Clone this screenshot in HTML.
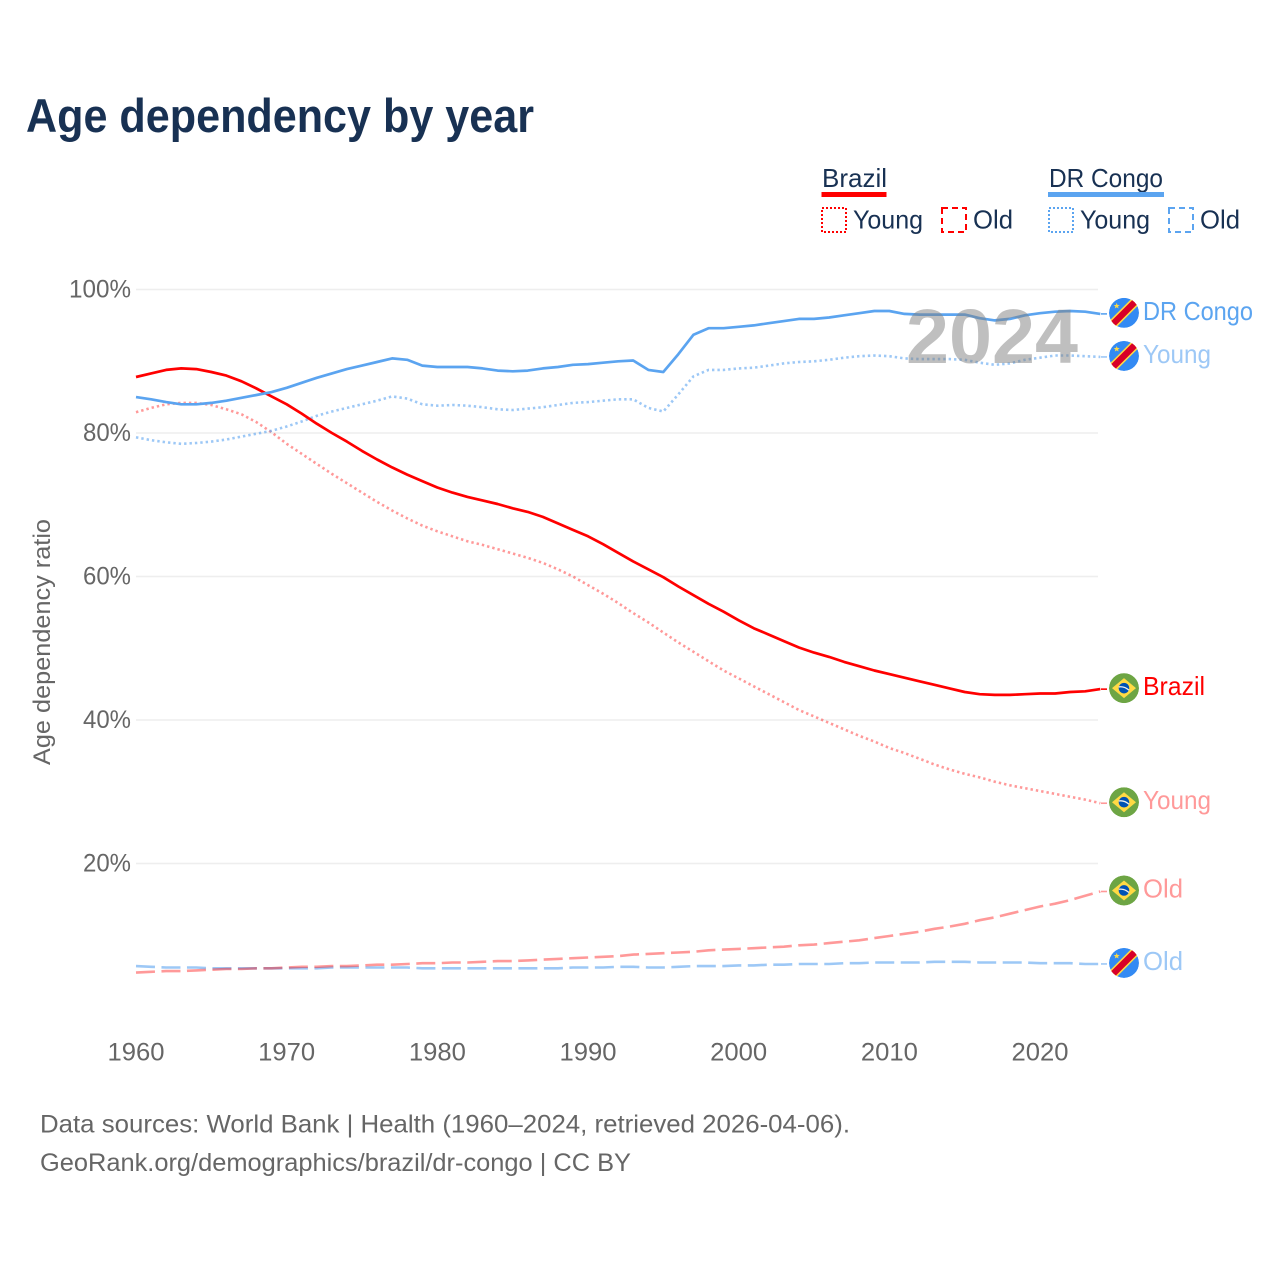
<!DOCTYPE html>
<html lang="en">
<head>
<meta charset="utf-8">
<title>Age dependency by year</title>
<style>
html,body{margin:0;padding:0;background:#fff;}
svg{display:block;}
text{font-family:"Liberation Sans",sans-serif;}
</style>
</head>
<body>
<svg id="chart" xmlns="http://www.w3.org/2000/svg" width="1280" height="1280" viewBox="0 0 1280 1280">
<defs>
<clipPath id="flag-clip"><circle cx="0" cy="0" r="15"/></clipPath>
<g id="flag-brazil">
<g clip-path="url(#flag-clip)">
<circle r="15" fill="#6da544"/>
<polygon points="0,-10 12,0 0,10 -12,0" fill="#ffda44"/>
<circle r="5.3" fill="#0052b4"/>
<path d="M-5.2,-1.2 Q0,-2.2 5,2" stroke="#f0f0f0" stroke-width="1.3" fill="none"/>
</g>
</g>
<g id="flag-congo">
<g clip-path="url(#flag-clip)">
<circle r="15" fill="#338af3"/>
<line x1="-15" y1="15" x2="15" y2="-15" stroke="#ffda44" stroke-width="9.5"/>
<line x1="-15" y1="15" x2="15" y2="-15" stroke="#d80027" stroke-width="6.4"/>
<polygon points="-7.3,-10 -6.5,-7.9 -4.3,-7.9 -6,-6.5 -5.4,-4.4 -7.3,-5.6 -9.2,-4.4 -8.6,-6.5 -10.3,-7.9 -8.1,-7.9" fill="#ffda44"/>
</g>
</g>
</defs>

<text x="26" y="132" font-size="47" font-weight="700" fill="#183153" textLength="508" lengthAdjust="spacingAndGlyphs">Age dependency by year</text>

<g>
<text x="822" y="187" font-size="26" fill="#183153" textLength="65" lengthAdjust="spacingAndGlyphs">Brazil</text>
<rect x="821.5" y="192" width="65" height="5" fill="#ff0000"/>
<rect x="822" y="208" width="24" height="24" fill="none" stroke="#ff0000" stroke-width="2" stroke-dasharray="2 2"/>
<text x="853" y="228.5" font-size="26" fill="#183153" textLength="70" lengthAdjust="spacingAndGlyphs">Young</text>
<rect x="942" y="208" width="24" height="24" fill="none" stroke="#ff0000" stroke-width="2" stroke-dasharray="6 4"/>
<text x="973" y="228.5" font-size="26" fill="#183153" textLength="40" lengthAdjust="spacingAndGlyphs">Old</text>
<text x="1049" y="187" font-size="26" fill="#183153" textLength="114" lengthAdjust="spacingAndGlyphs">DR Congo</text>
<rect x="1048" y="192" width="116" height="5" fill="#5ba4f0"/>
<rect x="1049" y="208" width="24" height="24" fill="none" stroke="#5ba4f0" stroke-width="2" stroke-dasharray="2 2"/>
<text x="1080" y="228.5" font-size="26" fill="#183153" textLength="70" lengthAdjust="spacingAndGlyphs">Young</text>
<rect x="1169" y="208" width="24" height="24" fill="none" stroke="#5ba4f0" stroke-width="2" stroke-dasharray="6 4"/>
<text x="1200" y="228.5" font-size="26" fill="#183153" textLength="40" lengthAdjust="spacingAndGlyphs">Old</text>
</g>

<g id="grid"></g>
<g id="y-ticks"></g>
<g id="x-ticks"></g>
<text transform="translate(50,642) rotate(-90)" text-anchor="middle" font-size="24" fill="#666666" textLength="246" lengthAdjust="spacingAndGlyphs">Age dependency ratio</text>

<g id="series"></g>
<text x="906" y="363" font-size="77" font-weight="700" fill="#808080" fill-opacity="0.5" textLength="172" lengthAdjust="spacingAndGlyphs">2024</text>
<g id="end-labels"></g>

<text x="40" y="1132.5" font-size="25" fill="#666666" textLength="810" lengthAdjust="spacingAndGlyphs">Data sources: World Bank | Health (1960–2024, retrieved 2026-04-06).</text>
<text x="40" y="1171" font-size="25" fill="#666666" textLength="591" lengthAdjust="spacingAndGlyphs">GeoRank.org/demographics/brazil/dr-congo | CC BY</text>
</svg>

<script>
var yearStart = 1960;
var xTickYears = [1960, 1970, 1980, 1990, 2000, 2010, 2020];
var yTickValues = [20, 40, 60, 80, 100];

var brazilTotal = [87.8,88.3,88.8,89.0,88.9,88.5,88.0,87.2,86.2,85.1,
  84.0,82.7,81.3,80.0,78.8,77.5,76.3,75.2,74.2,73.3,
  72.4,71.7,71.1,70.6,70.1,69.5,69.0,68.3,67.4,66.5,
  65.6,64.5,63.3,62.1,61.0,59.9,58.6,57.4,56.2,55.1,
  53.9,52.8,51.9,51.0,50.1,49.4,48.8,48.1,47.5,46.9,
  46.4,45.9,45.4,44.9,44.4,43.9,43.6,43.5,43.5,43.6,
  43.7,43.7,43.9,44.0,44.3];
var brazilYoung = [82.9,83.5,84.0,84.2,84.2,83.9,83.3,82.6,81.5,80.1,
  78.5,77.1,75.7,74.3,73.0,71.7,70.4,69.2,68.1,67.1,
  66.3,65.6,64.9,64.4,63.8,63.2,62.6,61.9,61.0,60.0,
  58.8,57.6,56.3,54.9,53.6,52.2,50.8,49.5,48.2,46.9,
  45.8,44.7,43.6,42.5,41.4,40.5,39.6,38.7,37.8,37.0,
  36.1,35.4,34.6,33.8,33.1,32.5,32.0,31.4,30.9,30.5,
  30.1,29.7,29.3,28.9,28.4];
var brazilOld = [4.8,4.9,5.0,5.0,5.1,5.2,5.3,5.3,5.4,5.4,
  5.5,5.6,5.6,5.7,5.7,5.8,5.9,5.9,6.0,6.1,
  6.1,6.2,6.2,6.3,6.4,6.4,6.5,6.6,6.7,6.8,
  6.9,7.0,7.1,7.3,7.4,7.5,7.6,7.7,7.9,8.0,
  8.1,8.2,8.3,8.4,8.6,8.7,8.9,9.1,9.3,9.6,
  9.9,10.2,10.5,10.9,11.2,11.6,12.1,12.5,13.0,13.5,
  14.0,14.4,14.9,15.5,16.1];
var congoTotal = [85.0,84.7,84.3,84.0,84.0,84.2,84.5,84.9,85.3,85.7,
  86.3,87.0,87.7,88.3,88.9,89.4,89.9,90.4,90.2,89.4,
  89.2,89.2,89.2,89.0,88.7,88.6,88.7,89.0,89.2,89.5,
  89.6,89.8,90.0,90.1,88.8,88.5,91.0,93.7,94.6,94.6,
  94.8,95.0,95.3,95.6,95.9,95.9,96.1,96.4,96.7,97.0,
  97.0,96.6,96.5,96.5,96.5,96.5,96.0,95.7,95.9,96.4,
  96.7,96.9,97.0,96.9,96.6];
var congoYoung = [79.4,79.0,78.7,78.5,78.6,78.8,79.1,79.5,79.9,80.3,
  80.9,81.6,82.4,83.0,83.5,84.0,84.5,85.1,84.8,84.0,
  83.8,83.9,83.8,83.6,83.3,83.2,83.4,83.6,83.9,84.2,
  84.3,84.5,84.7,84.7,83.5,83.0,85.4,87.9,88.8,88.8,
  89.0,89.1,89.4,89.7,89.9,90.0,90.2,90.5,90.7,90.8,
  90.7,90.4,90.3,90.3,90.3,90.2,89.8,89.5,89.7,90.2,
  90.5,90.8,90.8,90.7,90.6];
var congoOld = [5.7,5.6,5.5,5.5,5.5,5.4,5.4,5.4,5.4,5.4,
  5.4,5.4,5.4,5.5,5.5,5.5,5.5,5.5,5.5,5.4,
  5.4,5.4,5.4,5.4,5.4,5.4,5.4,5.4,5.4,5.5,
  5.5,5.5,5.6,5.6,5.5,5.5,5.6,5.7,5.7,5.7,
  5.8,5.8,5.9,5.9,6.0,6.0,6.0,6.1,6.1,6.2,
  6.2,6.2,6.2,6.3,6.3,6.3,6.2,6.2,6.2,6.2,
  6.1,6.1,6.1,6.0,6.0];

var SVGNS = 'http://www.w3.org/2000/svg';
function xScale(year) { return 136 + (year - 1960) * 15.0667; }
function yScale(value) { return 1007 - value * 7.175; }

function make(tag, parent, attrs, content) {
  var el = document.createElementNS(SVGNS, tag);
  for (var k in attrs) el.setAttribute(k, attrs[k]);
  if (content !== undefined) el.textContent = content;
  parent.appendChild(el);
  return el;
}

var gridGroup = document.getElementById('grid');
var yTickGroup = document.getElementById('y-ticks');
yTickValues.forEach(function (v) {
  var line = make('line', gridGroup, {x1: 136, x2: 1098, y1: yScale(v), y2: yScale(v), stroke: '#eeeeee', 'stroke-width': 1.5});
  
  
  var label = make('text', yTickGroup, {x: 131, y: yScale(v) + 8, 'text-anchor': 'end', 'font-size': 25, fill: '#666666', textLength: v === 100 ? 62 : 48, lengthAdjust: 'spacingAndGlyphs'}, v + '%');
  
  
});

var xTickGroup = document.getElementById('x-ticks');
xTickYears.forEach(function (yr) {
  var label = make('text', xTickGroup, {x: xScale(yr), y: 1060.5, 'text-anchor': 'middle', 'font-size': 25, fill: '#666666', textLength: 57, lengthAdjust: 'spacingAndGlyphs'}, String(yr));
  
  
});

var seriesList = [
  {id: 'congo-old', values: congoOld, color: '#5ba4f0', opacity: 0.6, width: 2.6, dash: '19 6.5', label: 'Old', flag: 'flag-congo'},
  {id: 'brazil-old', values: brazilOld, color: '#ff0000', opacity: 0.4, width: 2.6, dash: '19 6.5', label: 'Old', flag: 'flag-brazil'},
  {id: 'brazil-young', values: brazilYoung, color: '#ff0000', opacity: 0.4, width: 2.6, dash: '2.4 3', label: 'Young', flag: 'flag-brazil'},
  {id: 'congo-young', values: congoYoung, color: '#5ba4f0', opacity: 0.6, width: 2.6, dash: '2.4 3', label: 'Young', flag: 'flag-congo'},
  {id: 'brazil-total', values: brazilTotal, color: '#ff0000', opacity: 1, width: 2.7, dash: null, label: 'Brazil', flag: 'flag-brazil'},
  {id: 'congo-total', values: congoTotal, color: '#5ba4f0', opacity: 1, width: 2.7, dash: null, label: 'DR Congo', flag: 'flag-congo'}
];
var labelWidths = {'Old': 40, 'Young': 68, 'Brazil': 62, 'DR Congo': 110};

var seriesGroup = document.getElementById('series');
var endGroup = document.getElementById('end-labels');
seriesList.forEach(function (s) {
  var pts = s.values.map(function (v, i) {
    return xScale(yearStart + i).toFixed(1) + ',' + yScale(v).toFixed(1);
  }).join(' ');
  var attrs = {points: pts, fill: 'none', stroke: s.color, 'stroke-width': s.width, 'stroke-opacity': s.opacity, 'stroke-linejoin': 'round'};
  if (s.dash) attrs['stroke-dasharray'] = s.dash;
  var line = make('polyline', seriesGroup, attrs);
  
  

  var last = yScale(s.values[s.values.length - 1]);
  var conn = make('line', endGroup, {x1: 1101, x2: 1107, y1: last, y2: last, stroke: s.color, 'stroke-width': 1.6, 'stroke-opacity': s.opacity});
  
  

  var flag = make('use', endGroup, {href: '#' + s.flag, transform: 'translate(1124,' + (last - 1) + ')'});
  
  

  var text = make('text', endGroup, {x: 1143, y: last + 6, 'font-size': 26, fill: s.color, 'fill-opacity': s.opacity, textLength: labelWidths[s.label], lengthAdjust: 'spacingAndGlyphs'}, s.label);
  
  
});
</script>
</body>
</html>
